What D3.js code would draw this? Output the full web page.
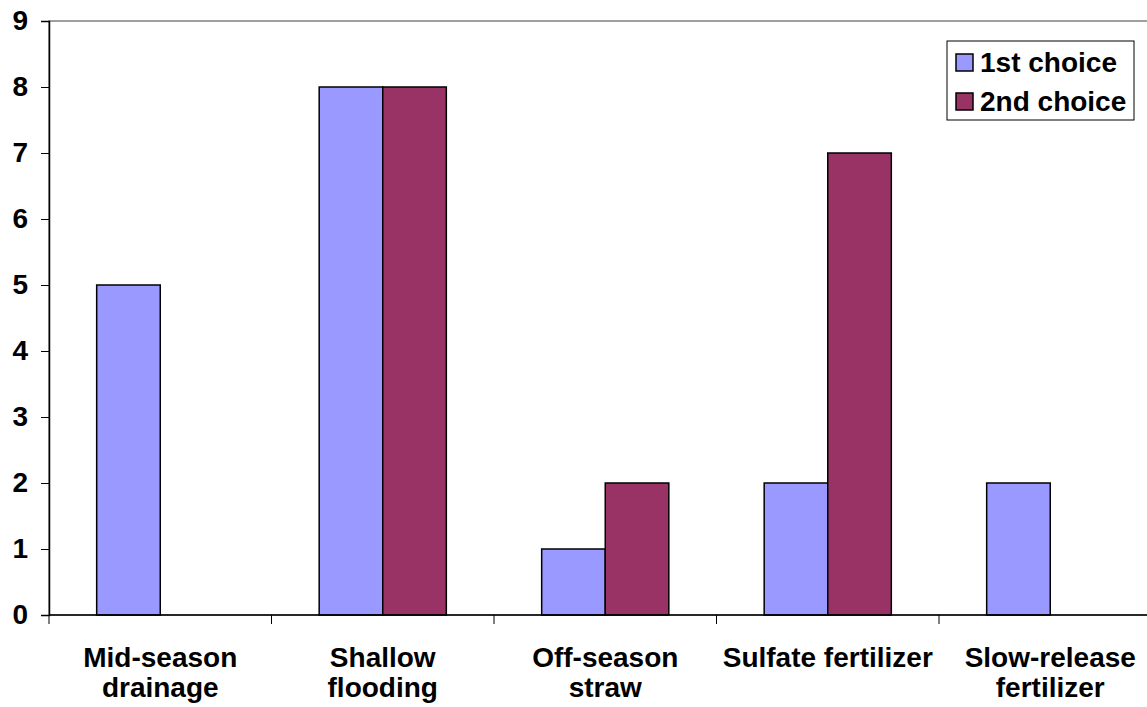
<!DOCTYPE html>
<html><head><meta charset="utf-8">
<script src="https://cdn.jsdelivr.net/npm/d3@7"></script>
<style>body{margin:0;background:#fff;overflow:hidden}svg{display:block}text{font-family:"Liberation Sans",Arial,sans-serif;font-weight:bold;fill:#000}</style>
</head><body>
<script>
const categories = [["Mid-season","drainage"],["Shallow","flooding"],["Off-season","straw"],["Sulfate fertilizer"],["Slow-release","fertilizer"]];
const seriesNames = ["1st choice","2nd choice"];
const firstChoice = [5,8,1,2,2];
const secondChoice = [0,8,2,7,0];
const colors = ["#9999FF","#993366"];
const yTicks = [0,1,2,3,4,5,6,7,8,9];

(function(){
const W=1147,H=707;
const pL=49,pR=1161.5,pT=21,pB=615;
const fs="28px";
const svg=d3.select("body").append("svg").attr("width",W).attr("height",H);

const x=d3.scaleBand().domain(d3.range(categories.length)).range([pL,pR]).paddingInner(0).paddingOuter(0);
const x1=d3.scaleBand().domain([0,1]).range([0,x.bandwidth()]).paddingOuter(0.75).paddingInner(0);
const y=d3.scaleLinear().domain([0,9]).range([pB,pT]);

svg.append("rect").attr("x",pL).attr("y",pT).attr("width",pR-pL).attr("height",pB-pT)
  .attr("fill","none").attr("stroke","#808080").attr("stroke-width",1.5);

const data=[firstChoice,secondChoice];
data.forEach((vals,si)=>{
  svg.append("g").selectAll("rect").data(vals.map((v,i)=>({v,i})).filter(d=>d.v>0)).join("rect")
    .attr("x",d=>x(d.i)+x1(si))
    .attr("y",d=>y(d.v))
    .attr("width",x1.bandwidth())
    .attr("height",d=>y(0)-y(d.v))
    .attr("fill",colors[si]).attr("stroke","#000").attr("stroke-width",1.5);
});

const ya=svg.append("g").attr("transform",`translate(${pL},0)`)
  .call(d3.axisLeft(y).tickValues(yTicks).tickFormat(d3.format("d")).tickSize(8).tickPadding(13));
ya.select(".domain").attr("stroke","#000").attr("stroke-width",1.5);
ya.selectAll(".tick line").attr("stroke","#000");
ya.selectAll("text").style("font-size",fs).style("font-family",'"Liberation Sans",Arial,sans-serif').style("font-weight","bold").attr("fill","#000");

const xa=svg.append("g").attr("transform",`translate(0,${pB})`);
xa.append("line").attr("x1",pL).attr("x2",pR).attr("stroke","#000").attr("stroke-width",1.5);
xa.selectAll("line.t").data(d3.range(categories.length+1)).join("line").attr("class","t")
  .attr("x1",i=>pL+i*x.bandwidth()).attr("x2",i=>pL+i*x.bandwidth())
  .attr("y1",0).attr("y2",9).attr("stroke","#000");
const lab=xa.selectAll("text.c").data(categories).join("text").attr("class","c")
  .attr("text-anchor","middle").style("font-size",fs)
  .attr("transform",(d,i)=>`translate(${x(i)+x.bandwidth()/2},0)`);
lab.each(function(d){
  d3.select(this).selectAll("tspan").data(d).join("tspan")
    .attr("x",0).attr("y",(t,j)=>52+j*30).text(t=>t);
});

const lg=svg.append("g");
lg.append("rect").attr("x",947).attr("y",41).attr("width",187).attr("height",79)
  .attr("fill","#fff").attr("stroke","#000").attr("stroke-width",1);
seriesNames.forEach((n,i)=>{
  lg.append("rect").attr("x",956).attr("y",54+i*39).attr("width",17).attr("height",17)
    .attr("fill",colors[i]).attr("stroke","#000").attr("stroke-width",1.5);
  lg.append("text").attr("x",980).attr("y",72+i*39).style("font-size",fs).text(n);
});
})();
</script>
</body></html>
